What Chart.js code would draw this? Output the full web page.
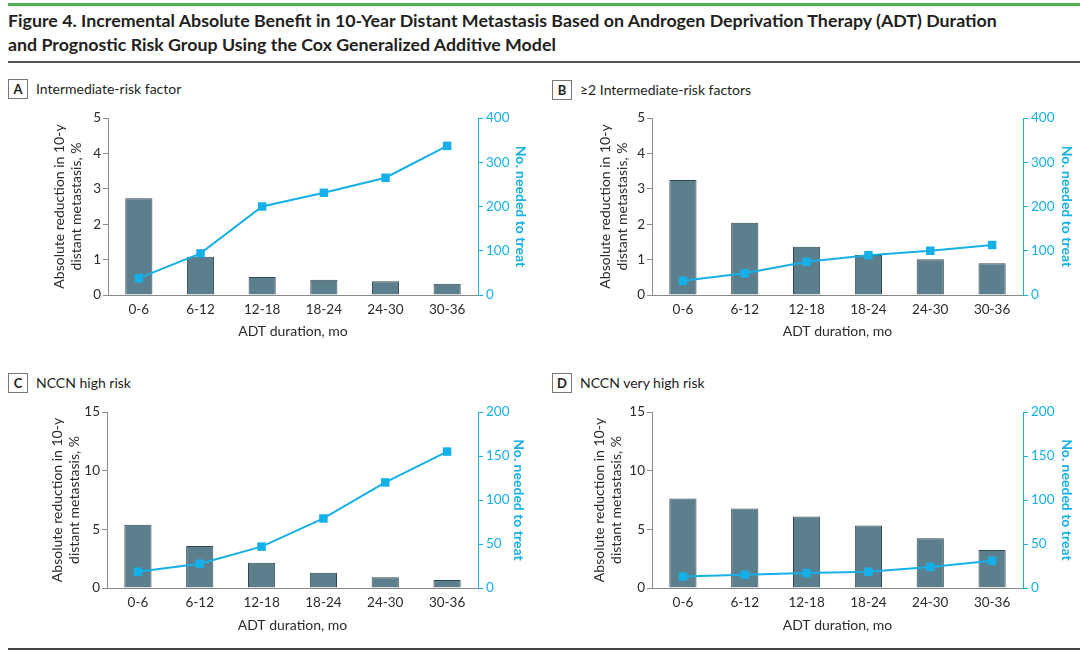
<!DOCTYPE html>
<html>
<head>
<meta charset="utf-8">
<script src="https://cdn.jsdelivr.net/npm/chart.js@4.4.0/dist/chart.umd.min.js"></script>
<style>
body { margin:0; width:1080px; height:653px; background:#fff; position:relative; overflow:hidden; font-family: Lato, sans-serif; color:#231f20; }
.topbar { position:absolute; left:8px; right:0; top:3px; height:3px; background:#4caf50; }
.title { position:absolute; left:8px; top:8px; font-size:17.8px; font-weight:700; line-height:24px; white-space:nowrap; }
.rule { position:absolute; left:8px; right:0; top:61px; height:2px; background:#555; }
.bottomrule { position:absolute; left:8px; right:0; top:648px; height:2px; background:#444; }
.plabel { position:absolute; font-size:14px; line-height:20px; white-space:nowrap; }
.plabel b { display:inline-block; box-sizing:border-box; width:20px; height:20px; border:1px solid #777; text-align:center; line-height:18px; font-size:13px; margin-right:8px; vertical-align:top; }
canvas { position:absolute; }
</style>
</head>
<body>
<div class="topbar"></div>
<div class="title">Figure 4. Incremental Absolute Benefit in 10-Year Distant Metastasis Based on Androgen Deprivation Therapy (ADT) Duration<br>and Prognostic Risk Group Using the Cox Generalized Additive Model</div>
<div class="rule"></div>

<div class="plabel" id="labA" style="left:8px;top:79px"></div>
<div class="plabel" id="labB" style="left:552px;top:80px"></div>
<div class="plabel" id="labC" style="left:8px;top:373px"></div>
<div class="plabel" id="labD" style="left:552px;top:373px"></div>

<canvas id="chartA" width="500" height="250" style="left:40px;top:100px"></canvas>
<canvas id="chartB" width="500" height="250" style="left:580px;top:100px"></canvas>
<canvas id="chartC" width="500" height="250" style="left:40px;top:395px"></canvas>
<canvas id="chartD" width="500" height="250" style="left:580px;top:395px"></canvas>

<div class="bottomrule"></div>

<script>
// data
const durations = ['0-6', '6-12', '12-18', '18-24', '24-30', '30-36'];

const reductionA = [2.73, 1.08, 0.51, 0.43, 0.39, 0.32];
const nntA = [38, 94, 200, 231, 265, 337];

const reductionB = [3.25, 2.04, 1.36, 1.13, 1.01, 0.90];
const nntB = [32, 49, 75, 90, 100, 113];

const reductionC = [5.39, 3.57, 2.15, 1.30, 0.91, 0.68];
const nntC = [18.5, 27.6, 47, 79, 120, 155];

const reductionD = [7.63, 6.78, 6.10, 5.33, 4.25, 3.23];
const nntD = [13, 15, 17, 18.5, 24, 31];

const leftTicksAB = [0, 1, 2, 3, 4, 5];
const rightTicksAB = [0, 100, 200, 300, 400];
const leftTicksCD = [0, 5, 10, 15];
const rightTicksCD = [0, 50, 100, 150, 200];

const panelLetters = ['A', 'B', 'C', 'D'];
const panelTitles = ['Intermediate-risk factor', '\u22652 Intermediate-risk factors', 'NCCN high risk', 'NCCN very high risk'];

const FONT = 'Lato, sans-serif';
const TEXT = '#2b2b2b';
const AXIS = '#8a8a8a';
const CYAN = '#16b0e8';
const BAR = '#5c7f8d';
const BAR_EDGE = '#34474f';

panelLetters.forEach(function (l, i) {
    document.getElementById('lab' + l).innerHTML = '<b>' + l + '</b>' + panelTitles[i];
});

function drawPanel(id, bars, nnt, leftTicks, rightTicks, box) {
    var ctx = document.getElementById(id);
    return new Chart(ctx, {
        data: {
            labels: durations,
            datasets: [{
                type: 'line',
                data: nnt,
                yAxisID: 'y2',
                order: 0,
                borderColor: CYAN,
                backgroundColor: CYAN,
                borderWidth: 2,
                pointStyle: 'rect',
                pointRadius: 6,
                pointBorderWidth: 0,
                tension: 0
            }, {
                type: 'bar',
                data: bars,
                yAxisID: 'y',
                order: 1,
                backgroundColor: BAR,
                borderColor: BAR_EDGE,
                borderWidth: 1,
                borderSkipped: 'bottom',
                barPercentage: 0.44,
                categoryPercentage: 1
            }]
        },
        options: {
            responsive: false,
            animation: false,
            layout: {padding: {top: box.top, left: 0, right: 0, bottom: 0}},
            plugins: {legend: {display: false}, tooltip: {enabled: false}},
            scales: {
                x: {
                    offset: true,
                    grid: {display: false, drawTicks: false},
                    border: {display: true, color: AXIS, width: 1},
                    ticks: {color: TEXT, font: {family: FONT, size: 13.5}, padding: 7, maxRotation: 0, autoSkip: false},
                    title: {display: true, text: 'ADT duration, mo', color: TEXT,
                        font: {family: FONT, size: 14}, padding: {top: 0, bottom: box.xPad}},
                    afterFit: function (s) { s.height = box.xh; }
                },
                y: {
                    position: 'left',
                    min: leftTicks[0],
                    max: leftTicks[leftTicks.length - 1],
                    ticks: {stepSize: leftTicks[1] - leftTicks[0], color: TEXT, font: {family: FONT, size: 13.5}, padding: 2},
                    grid: {drawOnChartArea: false, color: AXIS, tickLength: 5},
                    border: {color: AXIS},
                    title: {display: true, text: ['Absolute reduction in 10-y', 'distant metastasis, %'], color: TEXT,
                        font: {family: FONT, size: 14, lineHeight: 17 / 14}, padding: {top: box.lPad, bottom: 0}},
                    afterFit: function (s) { s.width = box.lw; }
                },
                y2: {
                    position: 'right',
                    min: rightTicks[0],
                    max: rightTicks[rightTicks.length - 1],
                    ticks: {stepSize: rightTicks[1] - rightTicks[0], color: CYAN, font: {family: FONT, size: 13.5}, padding: 3},
                    grid: {drawOnChartArea: false, color: CYAN, tickLength: 5},
                    border: {color: CYAN},
                    title: {display: true, text: 'No. needed to treat', color: CYAN,
                        font: {family: FONT, size: 14, weight: 'bold'}, padding: {top: box.rPad, bottom: 0}},
                    afterFit: function (s) { s.width = box.rw; }
                }
            }
        }
    });
}

drawPanel('chartA', reductionA, nntA, leftTicksAB, rightTicksAB, {top: 18, xh: 55, lw: 68, rw: 62, lPad: 10.5, rPad: 11, xPad: 10});
drawPanel('chartB', reductionB, nntB, leftTicksAB, rightTicksAB, {top: 18, xh: 55, lw: 72, rw: 57, lPad: 17, rPad: 4.6, xPad: 10});
drawPanel('chartC', reductionC, nntC, leftTicksCD, rightTicksCD, {top: 17, xh: 57, lw: 67, rw: 62, lPad: 9, rPad: 13, xPad: 11.6});
drawPanel('chartD', reductionD, nntD, leftTicksCD, rightTicksCD, {top: 17, xh: 57, lw: 72, rw: 57, lPad: 10.5, rPad: 4.6, xPad: 11.6});
</script>
</body>
</html>
